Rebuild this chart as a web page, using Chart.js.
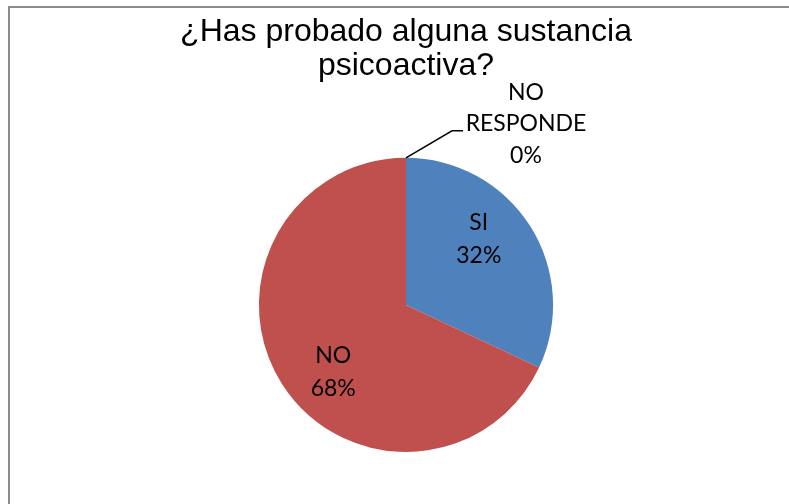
<!DOCTYPE html>
<html>
<head>
<meta charset="utf-8">
<script src="https://cdn.jsdelivr.net/npm/chart.js@4/dist/chart.umd.min.js"></script>
<style>
  html, body { margin: 0; padding: 0; background: #fff; overflow: hidden; }
  #frame { position: absolute; left: 8px; top: 6px; width: 1200px; height: 900px;
           border-top: 2px solid #8c8c8c; border-left: 2px solid #8c8c8c; }
  #wrap { position: absolute; left: 8px; top: 0; width: 796px; height: 504px; }
</style>
</head>
<body>
<div id="frame"></div>
<div id="wrap"><canvas id="canvas" width="796" height="504"></canvas></div>
<script>
var titleLines = ['¿Has probado alguna sustancia', 'psicoactiva?'];
var categories = ['SI', 'NO', 'NO RESPONDE'];
var values = [32, 68, 0];
var sliceColors = ['#4F81BD', '#C0504D', '#9BBB59'];

var labelFont = '23px Lato';

// draws "category / pct" inside each slice, and a leader-line label for empty slices
var sliceLabels = {
        id: 'sliceLabels',
        afterDatasetsDraw: function(chart) {
                var ctx = chart.ctx;
                var meta = chart.getDatasetMeta(0);
                var data = chart.data.datasets[0].data;
                var total = data.reduce(function(a, b) { return a + b; }, 0);
                ctx.save();
                ctx.font = labelFont;
                ctx.fillStyle = '#000';
                ctx.textAlign = 'center';
                ctx.textBaseline = 'middle';
                meta.data.forEach(function(arc, i) {
                        var p = arc.getProps(['x', 'y', 'startAngle', 'endAngle', 'outerRadius'], true);
                        var pct = Math.round(data[i] / total * 100) + '%';
                        var label = chart.data.labels[i];
                        if (data[i] > 0) {
                                var mid = (p.startAngle + p.endAngle) / 2 - 10 * Math.PI / 180;
                                var r = p.outerRadius * 0.67;
                                var cx = p.x + Math.cos(mid) * r;
                                var cy = p.y + Math.sin(mid) * r;
                                ctx.fillText(label, cx, cy - 16);
                                ctx.fillText(pct, cx, cy + 17);
                        } else {
                                var a = p.startAngle;
                                var x0 = p.x + Math.cos(a) * p.outerRadius;
                                var y0 = p.y + Math.sin(a) * p.outerRadius;
                                var x1 = x0 + 46, y1 = y0 - 27, x2 = x1 + 11;
                                ctx.strokeStyle = '#000';
                                ctx.lineWidth = 1.5;
                                ctx.beginPath();
                                ctx.moveTo(x0, y0);
                                ctx.lineTo(x1, y1);
                                ctx.lineTo(x2, y1);
                                ctx.stroke();
                                var lines = label.split(' ').concat([pct]);
                                var tx = x2 + 63, ty = y1 - 7;
                                lines.forEach(function(t, k) {
                                        ctx.fillText(t, tx, ty + (k - (lines.length - 1) / 2) * 31.5);
                                });
                        }
                });
                ctx.restore();
        }
};

var config = {
        type: 'pie',
        data: {
                labels: categories,
                datasets: [{
                        data: values,
                        backgroundColor: sliceColors,
                        borderWidth: 0
                }]
        },
        options: {
                responsive: false,
                animation: false,
                layout: {
                        padding: { left: 0, right: 0, top: 0, bottom: 52 }
                },
                plugins: {
                        legend: { display: false },
                        tooltip: { enabled: false },
                        title: {
                                display: true,
                                text: titleLines,
                                color: '#000',
                                font: { family: 'Liberation Sans', size: 32, weight: 'normal', lineHeight: 1.06 },
                                padding: { top: 15, bottom: 75 }
                        }
                }
        },
        plugins: [sliceLabels]
};

window.onload = function() {
        var ctx = document.getElementById('canvas').getContext('2d');
        window.myPie = new Chart(ctx, config);
};
</script>
</body>
</html>
